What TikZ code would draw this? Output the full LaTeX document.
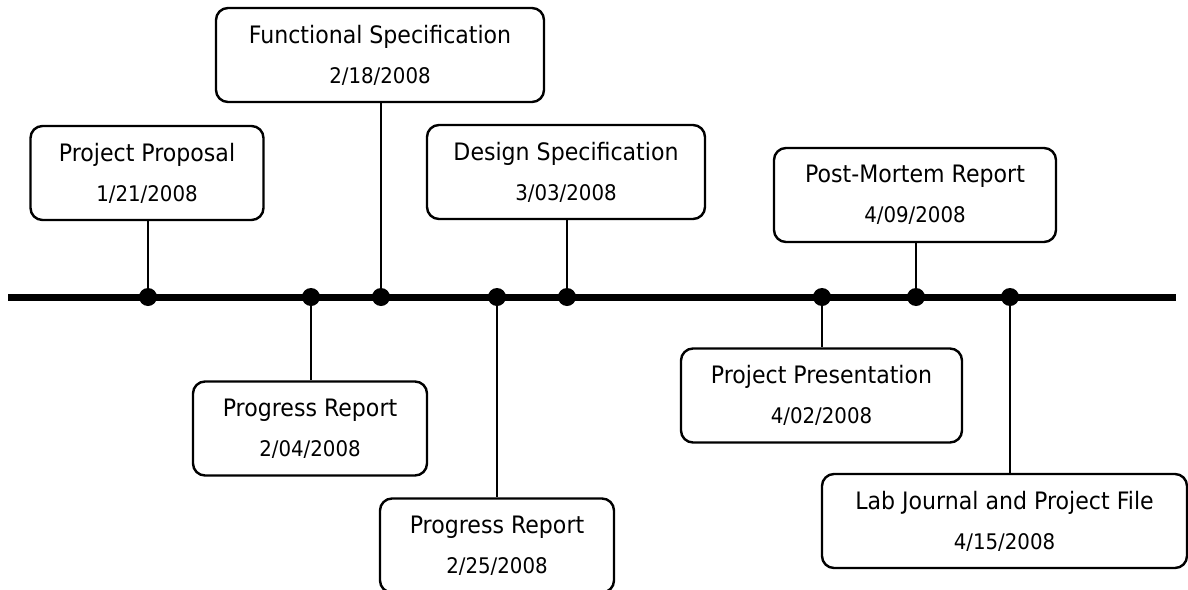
\documentclass[tikz,border=0pt]{standalone}
\usepackage{fontspec}
\setmainfont{DejaVu Sans}[FakeStretch=0.92]
\newcommand{\ev}[2]{{\fontsize{24}{28}\selectfont #1}\\[18pt]{\fontsize{21.5}{25}\selectfont #2}}
\tikzset{
  evbox/.style={draw, line width=2.4pt, rounded corners=12pt, align=center, inner sep=0pt, minimum height=94, fill=white},
  dot/.style={circle, fill=black, inner sep=0pt, minimum size=18},
  conn/.style={line width=1.2pt},
  axis/.style={line width=7pt}
}
\begin{document}
\begin{tikzpicture}[x=1pt,y=-1pt]
\useasboundingbox (0,0) rectangle (1188,589);
\coordinate (tl) at (8,297);
\coordinate (tr) at (1176,297);
\draw[axis] (tl) -- (tr);
\node[dot] (d1) at (148,297) {};
\node[dot] (d2) at (311,297) {};
\node[dot] (d3) at (381,297) {};
\node[dot] (d4) at (497,297) {};
\node[dot] (d5) at (567,297) {};
\node[dot] (d6) at (822,297) {};
\node[dot] (d7) at (916,297) {};
\node[dot] (d8) at (1010,297) {};
\node[evbox, minimum width=233] (pp) at (147,173) {\ev{Project Proposal}{1/21/2008}};
\node[evbox, minimum width=328] (fs) at (380,55) {\ev{Functional Specification}{2/18/2008}};
\node[evbox, minimum width=278] (ds) at (566,172) {\ev{Design Specification}{3/03/2008}};
\node[evbox, minimum width=282] (pm) at (915,195) {\ev{Post-Mortem Report}{4/09/2008}};
\node[evbox, minimum width=234] (pr1) at (310,428.5) {\ev{Progress Report}{2/04/2008}};
\node[evbox, minimum width=234] (pr2) at (497,545.5) {\ev{Progress Report}{2/25/2008}};
\node[evbox, minimum width=281] (ppr) at (821.5,395.5) {\ev{Project Presentation}{4/02/2008}};
\node[evbox, minimum width=365] (lj) at (1004.5,521) {\ev{Lab Journal and Project File}{4/15/2008}};
\draw[conn] (d1) -- (d1 |- pp.south);
\draw[conn] (d3) -- (d3 |- fs.south);
\draw[conn] (d5) -- (d5 |- ds.south);
\draw[conn] (d7) -- (d7 |- pm.south);
\draw[conn] (d2) -- (d2 |- pr1.north);
\draw[conn] (d4) -- (d4 |- pr2.north);
\draw[conn] (d6) -- (d6 |- ppr.north);
\draw[conn] (d8) -- (d8 |- lj.north);
\end{tikzpicture}
\end{document}
